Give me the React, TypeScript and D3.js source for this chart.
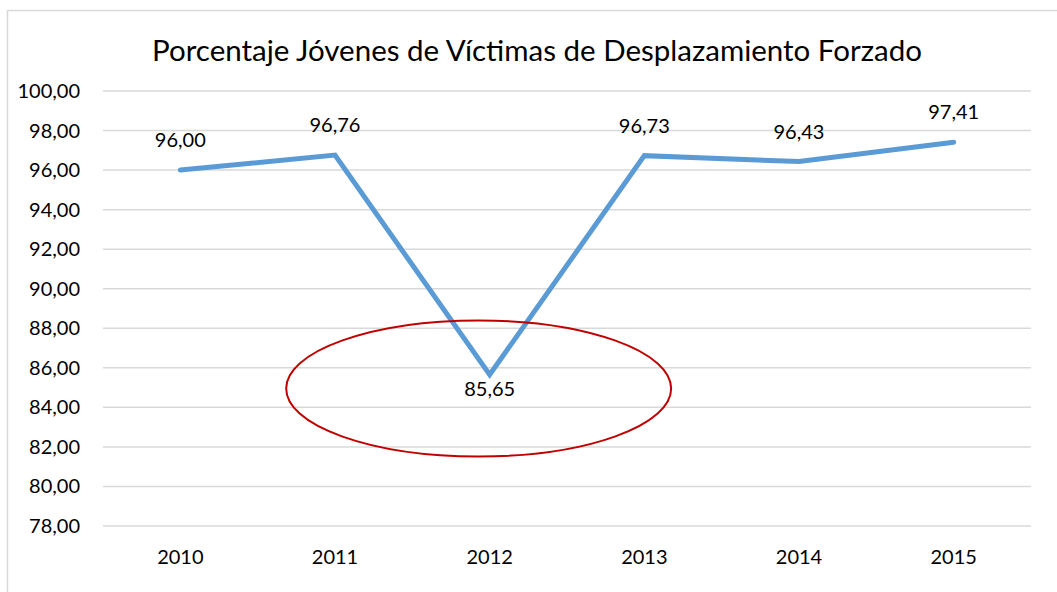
import React from 'react';
import * as d3 from 'd3';

const years = ['2010', '2011', '2012', '2013', '2014', '2015'];
const values = [96.0, 96.76, 85.65, 96.73, 96.43, 97.41];
const yTicks = [78, 80, 82, 84, 86, 88, 90, 92, 94, 96, 98, 100];
const title = 'Porcentaje Jóvenes de Víctimas de Desplazamiento Forzado';

const W = 1057;
const H = 592;
const plot = { left: 103, right: 1031, top: 91, bottom: 526 };
const font = 'Lato, "Open Sans", sans-serif';

const fmt = (v: number) => v.toFixed(2).replace('.', ',');

export default function App() {
  const x = d3.scaleBand().domain(years).range([plot.left, plot.right]);
  const y = d3.scaleLinear().domain([78, 100]).range([plot.bottom, plot.top]);

  const line = d3.line<number>()
    .x((_, i) => (x(years[i]) as number) + x.bandwidth() / 2)
    .y(d => y(d));

  // index of the low point, circled in the original
  const lowIdx = values.indexOf(d3.min(values) as number);
  const lowX = (x(years[lowIdx]) as number) + x.bandwidth() / 2;

  return (
    <svg width={W} height={H} style={{ position: 'absolute', left: 0, top: 0 }}>
      <rect x={0} y={0} width={W} height={H} fill='#fff' />
      <rect x={7.5} y={10.5} width={W + 20} height={H + 20} fill='none' stroke='#d9d9d9' strokeWidth={1.5} />

      <text x={537} y={61} textAnchor='middle' fontFamily={font} fontSize={29.5} fill='#000'>{title}</text>

      {/* grid + y labels */}
      {yTicks.map(t => (
        <g key={t}>
          <line x1={plot.left} x2={plot.right} y1={y(t)} y2={y(t)} stroke='#d9d9d9' strokeWidth={1.5} />
          <text x={80} y={y(t)} dy='0.35em' textAnchor='end' fontFamily={font} fontSize={20} fill='#000'>{fmt(t)}</text>
        </g>
      ))}

      {/* x labels */}
      {years.map(yr => (
        <text key={yr} x={(x(yr) as number) + x.bandwidth() / 2} y={564} textAnchor='middle'
          fontFamily={font} fontSize={20} fill='#000'>{yr}</text>
      ))}

      <path d={line(values) || ''} fill='none' stroke='#5b9bd5' strokeWidth={5} strokeLinejoin='miter' strokeLinecap='round' />

      {/* data labels */}
      {values.map((v, i) => {
        const cx = (x(years[i]) as number) + x.bandwidth() / 2;
        const below = i === lowIdx;
        return (
          <text key={i} x={cx} y={below ? y(v) + 14 : y(v) - 30} dy='0.35em' textAnchor='middle'
            fontFamily={font} fontSize={20} fill='#000'>{fmt(v)}</text>
        );
      })}

      <ellipse cx={lowX - 11} cy={388.5} rx={192.5} ry={68} fill='none' stroke='#c00000' strokeWidth={2} />
    </svg>
  );
}
